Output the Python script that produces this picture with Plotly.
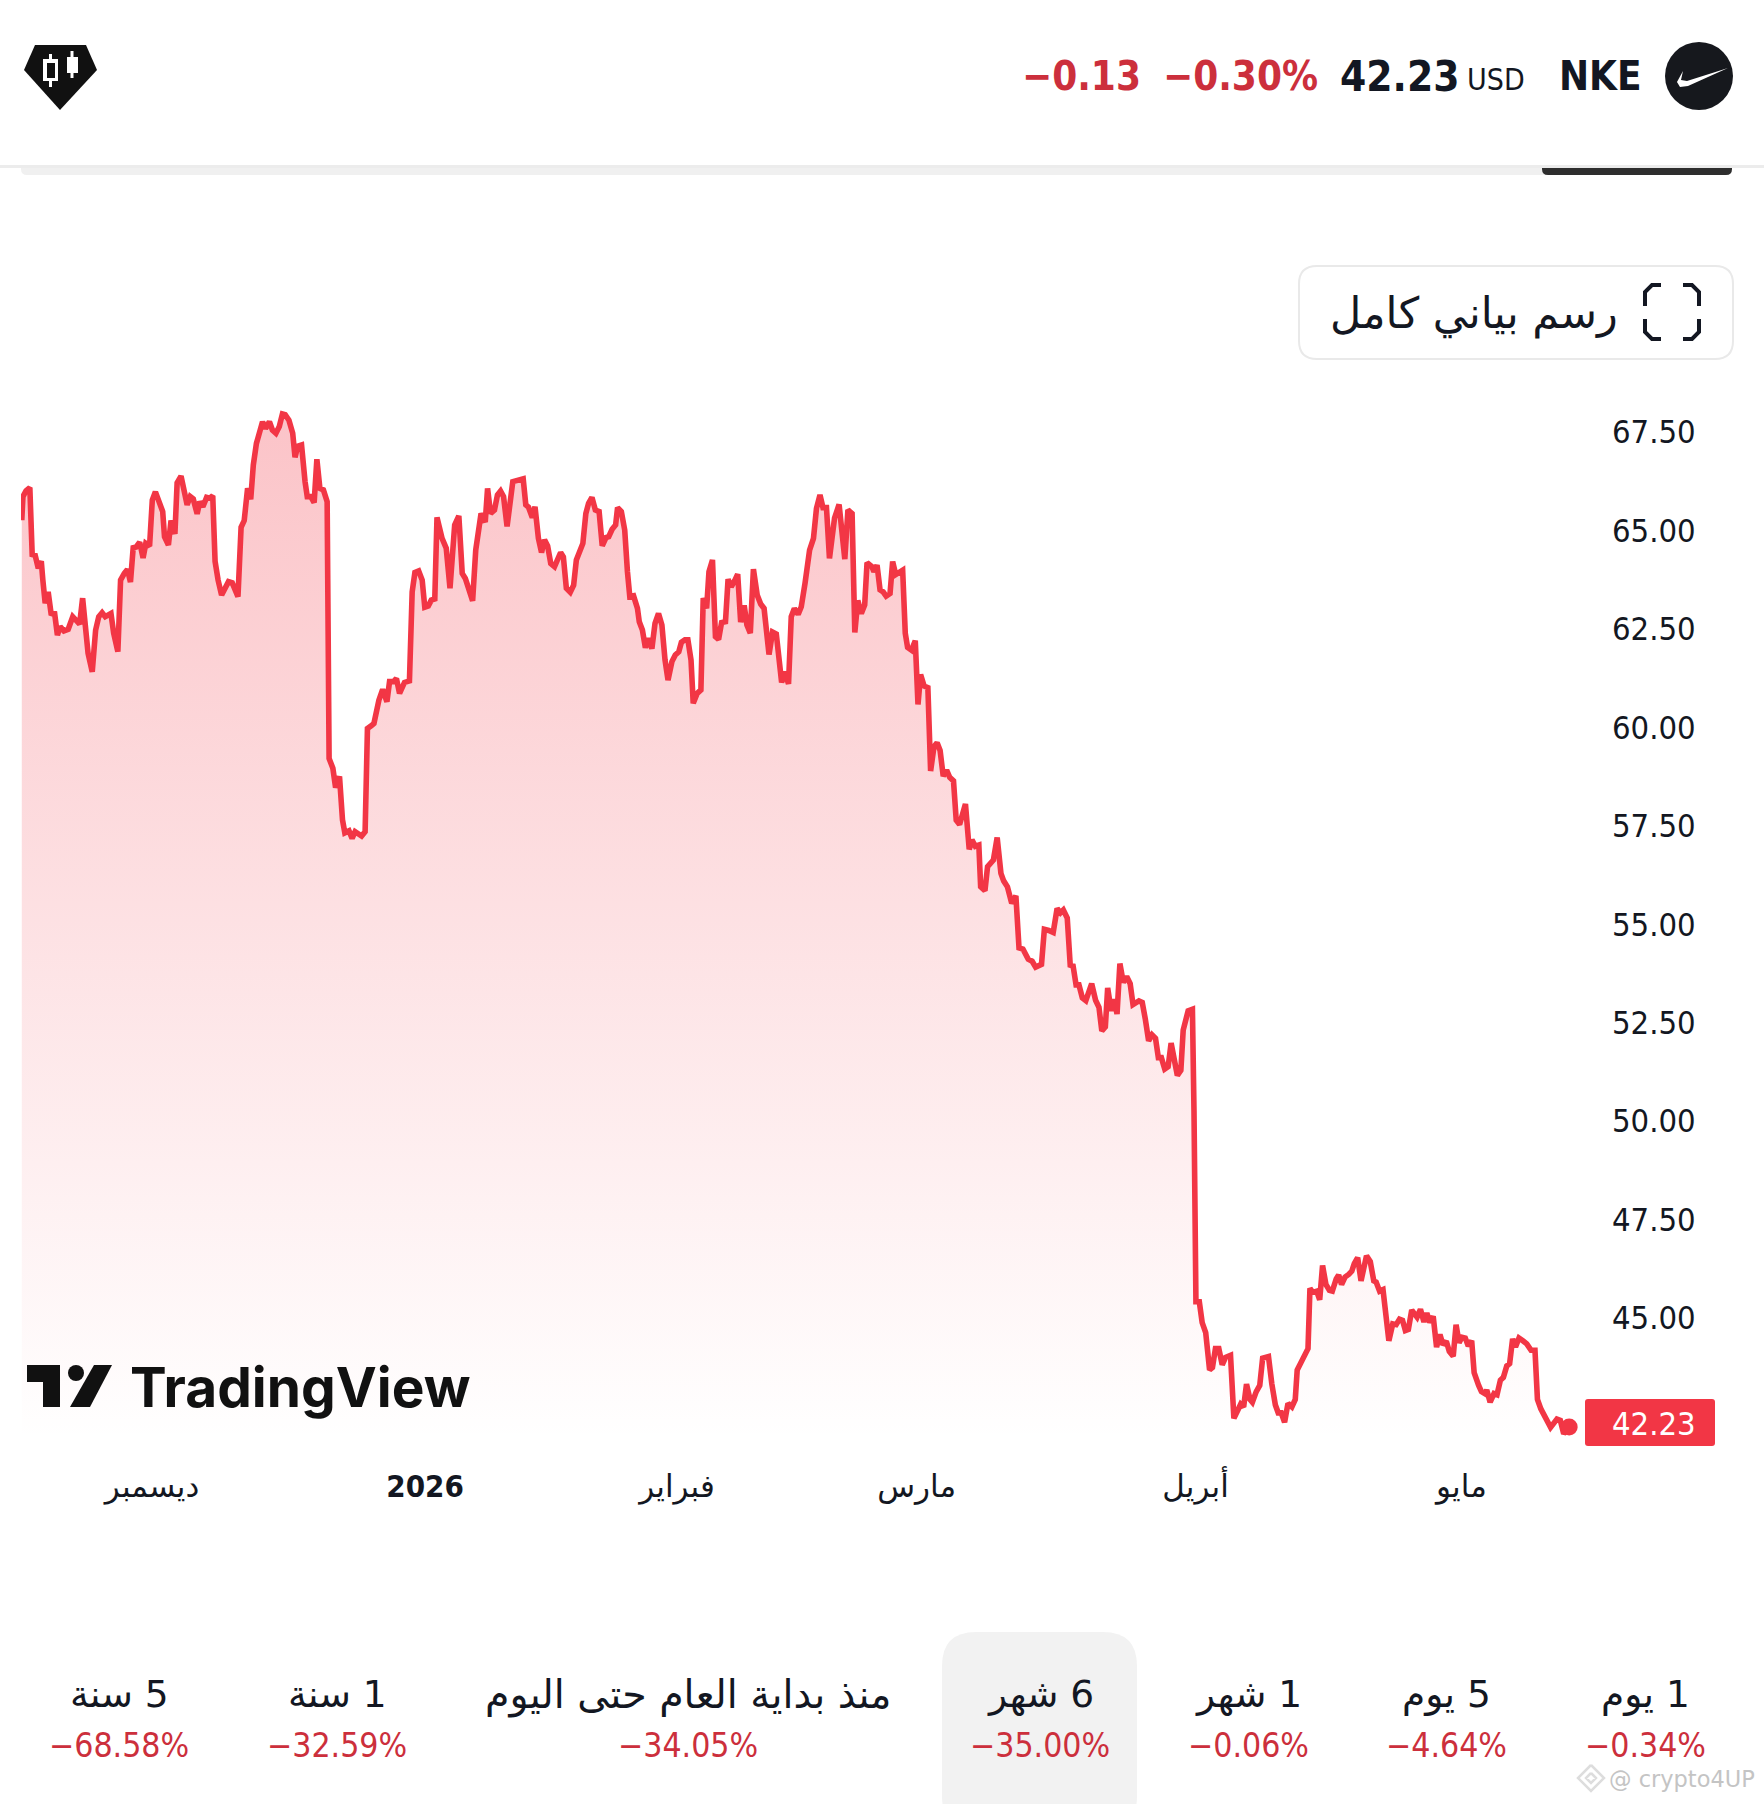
import plotly.graph_objects as go

FONT = 'DejaVu Sans'
COND = 'DejaVu Sans Condensed'
RED = '#f23645'
RED_TXT = '#cc2f3c'
INK = '#131722'

# trading session number (0 = left edge of the chart) and close
sessions_a = [0.06,0.15,0.39,0.68,0.86,1.09,1.33,1.56,1.68,1.86,2.09,2.33,2.57,2.80,3.01,3.30,3.63,3.98,4.51,4.74,5.16,5.48,5.74,5.98,6.24,6.48,6.92,7.13,7.45,7.66,7.95,8.19,8.42,8.63,8.86,9.13,9.39,9.60,9.89,10.10,10.34,10.90,11.04,11.34,11.54,11.84,12.01,12.31,12.78,13.02,13.25,13.55,13.75,13.99,14.28,14.52,14.75,14.93,15.16,15.43,15.96,16.25,16.69,16.93,17.17,17.43,17.67,17.87,18.11,18.58,18.81,19.11,19.34,19.61,19.87,20.11,20.32,20.61,20.90,21.08,21.29,21.58,21.85,22.02,22.29,22.55,22.76,22.99,23.26,23.55]
prices_a = [65.26,65.86,66.01,66.09,64.39,64.37,64.04,64.22,63.74,63.15,63.44,62.85,62.94,62.34,62.56,62.45,62.49,62.81,62.62,63.28,61.88,61.41,62.47,62.81,62.91,62.81,62.89,62.39,61.92,63.74,63.91,64.01,63.69,64.56,64.58,64.70,64.30,64.67,64.60,65.77,65.98,65.48,64.84,64.63,65.25,64.91,66.21,66.38,65.65,65.86,65.80,65.42,65.73,65.60,65.84,65.82,65.88,64.21,63.74,63.36,63.70,63.67,63.32,65.08,65.25,66.07,65.79,66.66,67.21,67.76,67.59,67.76,67.55,67.47,67.64,67.96,67.94,67.80,67.47,66.86,67.14,67.17,66.24,65.86,65.86,65.71,66.81,66.07,66.03,65.73]

sessions_b = [23.70,23.99,24.20,24.50,24.73,24.91,25.23,25.47,25.70,26.20,26.47,26.65,26.94,27.15,27.53,27.82,28.15,28.35,28.65,28.88,29.12,29.50,29.88,30.09,30.30,30.59,30.86,31.06,31.33,31.56,31.83,32.00,32.39,32.71,33.00,33.36,33.68,33.94,34.18,34.74,34.98,35.39,35.71,35.89,36.12,36.42,36.65,36.89,37.12,37.39,37.83,38.19,38.63,38.83,39.04,39.33,39.54,39.80,40.04,40.27,40.51,40.75,41.04,41.51,41.72,41.95,42.25,42.51,42.72,43.22,43.45,43.66,43.92]
prices_b = [59.21,58.96,58.47,58.75,57.65,57.32,57.37,57.18,57.35,57.24,57.35,59.97,60.04,60.10,60.69,60.96,60.65,61.16,61.16,61.24,60.86,61.14,61.18,63.44,63.93,63.97,63.74,63.05,63.08,63.23,63.26,65.33,64.80,64.55,63.53,65.14,65.37,63.91,63.78,63.21,64.50,65.43,65.21,66.07,65.43,65.52,65.90,66.00,65.86,65.10,66.24,66.26,66.31,65.65,65.59,65.33,65.60,64.80,64.44,64.76,64.61,64.16,64.08,64.44,64.33,63.53,63.43,63.61,64.25,64.67,65.43,65.69,65.84]

sessions_c = [44.18,44.47,44.71,45.00,45.21,45.47,45.74,45.89,46.18,46.44,46.65,46.83,47.12,47.42,47.56,47.80,48.03,48.24,48.53,48.77,49.04,49.30,49.54,49.77,50.07,50.33,50.60,50.80,51.07,51.30,51.54,51.71,52.01,52.30,52.48,52.74,52.92,53.19,53.42,53.66,53.89,54.19,54.39,54.63,54.89,55.13,55.36,55.63,55.84,56.10,56.34,56.63,56.90,57.16,57.54,57.81,58.10,58.51,58.75,59.04,59.25,59.49,59.78,60.02,60.31,60.66,60.96,61.19,61.46,61.69,61.96,62.19,62.58,62.93,63.37,63.61,63.93,64.14,64.37,64.64,64.90,65.08,65.46,65.61,65.85,66.08,66.32,66.55,66.85,67.05,67.29,67.82,68.02,68.20,68.50,68.79,69.00,69.20,69.47,69.76,69.97,70.23,70.47,70.70,70.94,71.20,71.44,71.73,71.94,72.20,72.65,72.94,73.15,73.41,73.68,73.82,74.15,74.35,74.80,75.09,75.38,75.59,75.88,76.21,76.53]
prices_c = [65.52,65.48,64.61,64.82,64.84,65.03,65.14,65.58,65.48,65.01,63.95,63.32,63.34,63.02,62.68,62.47,62.02,62.26,62.00,62.64,62.89,62.60,61.71,61.20,61.67,61.84,61.92,62.16,62.22,62.22,61.71,60.61,60.86,60.95,63.28,63.02,63.95,64.25,62.30,62.23,62.66,62.68,63.76,63.57,63.72,63.89,62.67,63.10,62.60,62.39,64.02,63.36,63.13,63.02,61.85,62.42,62.37,61.14,61.41,61.10,62.81,63.02,62.87,63.06,63.66,64.50,64.80,65.56,65.90,65.58,65.58,64.29,65.31,65.66,64.27,65.52,65.43,62.41,63.22,62.89,63.11,64.18,64.08,63.95,64.12,63.49,63.44,63.33,63.40,64.21,63.88,63.99,62.39,62.03,61.96,62.20,60.58,61.34,61.05,61.01,58.89,59.51,59.61,59.41,58.76,58.91,58.73,58.64,57.64,57.53,58.05,56.90,57.14,56.98,57.01,55.95,55.85,56.46,56.63,57.20,56.29,56.10,55.95,55.53,55.72]

sessions_d = [76.77,77.07,77.48,77.78,78.05,78.50,78.72,79.06,79.40,79.70,79.96,80.18,80.48,80.71,80.93,81.16,81.38,81.64,81.91,82.36,82.66,82.92,83.14,83.41,83.59,83.86,84.08,84.31,84.53,84.79,85.05,85.32,85.54,85.99,86.25,86.48,86.74,87.00,87.27,87.49,87.72,87.98,88.24,88.47,88.73,88.95,89.22,89.40,89.78,90.11,90.23,90.38,90.64,90.86,91.13,91.43,91.65,91.88,92.14,92.40,92.66,93.04,93.30,93.60,93.82,94.05,94.27,94.54,94.72,95.02,95.29,95.51,95.96,96.22,96.49,96.71,96.94,97.20,97.46,97.76,98.02,98.17,98.43,98.73,99.00,99.15,99.37,99.67,99.90,100.12,100.38,100.65,100.87,101.17,101.36,101.58,101.85,102.15,102.37,102.56,102.82,103.08,103.50,103.79,104.06,104.24,104.51,104.77,104.99,105.22,105.52,105.78,106.04,106.27,106.49,106.72,106.98,107.39,107.65,107.92,108.14,108.37,108.63,108.89,109.15,109.38,109.64,109.87,110.17,110.39,110.62,110.84,111.10,111.33,111.59,111.78,112.12,112.34,112.60,112.75,113.01,113.31,113.54,113.80,114.03,114.29,114.51,114.74,114.96,115.23,115.53,115.83,116.16,116.46,116.65,116.91,117.66,118.15,118.41,118.67,119.09]
prices_d = [54.40,54.37,54.11,54.06,53.91,53.98,54.87,54.84,54.79,55.40,55.29,55.36,55.16,53.96,53.94,53.46,53.46,53.13,53.06,53.49,53.07,52.89,52.29,52.39,53.38,52.80,53.09,52.72,54.00,53.52,53.67,53.49,52.96,53.05,53.01,52.60,52.04,52.19,52.10,51.61,51.61,51.32,51.38,51.98,51.45,51.16,51.29,52.31,52.80,52.84,50.27,45.41,45.41,44.88,44.63,43.68,43.74,44.22,44.22,43.81,44.00,44.05,42.45,42.71,42.81,42.74,43.32,42.93,42.86,43.13,43.29,43.98,44.02,43.32,42.79,42.59,42.59,42.35,42.83,42.74,42.93,43.68,43.84,43.98,44.22,45.75,45.65,45.68,45.46,46.33,45.85,45.70,45.68,45.99,46.09,45.85,46.04,46.11,46.19,46.38,46.53,45.94,46.58,46.43,45.94,45.91,45.68,45.72,44.92,44.42,44.85,44.83,44.97,44.94,44.68,44.71,45.20,45.02,45.22,44.90,45.12,44.89,45.04,44.26,44.58,44.32,44.41,44.15,44.03,44.83,44.37,44.51,44.49,44.29,44.42,43.61,43.29,43.13,43.08,43.17,42.86,43.08,43.05,43.42,43.49,43.78,43.84,44.47,44.26,44.49,44.42,44.34,44.18,44.18,42.93,42.69,42.22,42.43,42.40,42.06,42.23]

sessions = sessions_a + sessions_b + sessions_c + sessions_d
prices = prices_a + prices_b + prices_c + prices_d

y_ticks = [45, 47.5, 50, 52.5, 55, 57.5, 60, 62.5, 65, 67.5]
y_labels = ['45.00', '47.50', '50.00', '52.50', '55.00', '57.50', '60.00', '62.50', '65.00', '67.50']
x_ticks = [10.08, 31.08, 50.46, 68.9, 90.35, 110.8]
x_labels = ['ديسمبر', f'<span style="font-family:{COND};font-size:31px;font-weight:bold">2026</span>',
            'فبراير', 'مارس', 'أبريل', 'مايو']

# the leading RLM keeps the number on the right of the Arabic word
period_names = ['\u200f5 سنة', '\u200f1 سنة', 'منذ بداية العام حتى اليوم', '\u200f6 شهر', '\u200f1 شهر', '\u200f5 يوم', '\u200f1 يوم']
period_sizes = [37.5, 37.5, 39.5, 37.5, 37.5, 37.5, 37.5]
period_changes = ['−68.58%', '−32.59%', '−34.05%', '−35.00%', '−0.06%', '−4.64%', '−0.34%']
period_x = [119, 337, 688, 1040, 1248, 1446, 1645]

W, H = 1764, 1804
L, R, T, B = 21, 1605, 400, 1440


def px(x):
    return (x - L) / (R - L)


def py(y):
    return (B - y) / (B - T)


def note(text, x, y, size, color=INK, anchor='center', weight=None, family=FONT):
    return dict(text=text, xref='paper', yref='paper', x=px(x), y=py(y), showarrow=False,
                xanchor=anchor, yanchor='middle', align='center',
                font=dict(family=family, size=size, color=color, weight=weight))


def rect(x0, y0, x1, y1, **kw):
    return dict(type='rect', xref='paper', yref='paper', x0=px(x0), x1=px(x1), y0=py(y0), y1=py(y1),
                line=dict(width=0), **kw)


def path(points, color, layer='above', close=True):
    d = 'M ' + ' L '.join(f'{px(a):.5f} {py(b):.5f}' for a, b in points) + (' Z' if close else '')
    return dict(type='path', xref='paper', yref='paper', path=d, fillcolor=color,
                line=dict(width=0), layer=layer)


def round_box(x0, y0, x1, y1, r, fill, line=None):
    d = (f'M {px(x0+r)} {py(y0)} L {px(x1-r)} {py(y0)} Q {px(x1)} {py(y0)} {px(x1)} {py(y0+r)} '
         f'L {px(x1)} {py(y1-r)} Q {px(x1)} {py(y1)} {px(x1-r)} {py(y1)} '
         f'L {px(x0+r)} {py(y1)} Q {px(x0)} {py(y1)} {px(x0)} {py(y1-r)} '
         f'L {px(x0)} {py(y0+r)} Q {px(x0)} {py(y0)} {px(x0+r)} {py(y0)} Z')
    return dict(type='path', xref='paper', yref='paper', path=d, fillcolor=fill, layer='below',
                line=dict(width=2 if line else 0, color=line or fill))


def corner(points, color=INK, width=4):
    d = 'M ' + ' L '.join(f'{px(a):.5f} {py(b):.5f}' for a, b in points)
    return dict(type='path', xref='paper', yref='paper', path=d, line=dict(width=width, color=color))


fig = go.Figure()
fig.add_trace(go.Scatter(
    x=sessions, y=prices, mode='lines', hoverinfo='skip',
    line=dict(color=RED, width=5.6),
    fill='tozeroy',
    fillgradient=dict(type='vertical', start=68.3, stop=41.9,
                      colorscale=[[0, 'rgba(242,54,69,0.30)'], [1, 'rgba(242,54,69,0.0)']]),
))
fig.add_trace(go.Scatter(
    x=sessions[-1:], y=prices[-1:], mode='markers', hoverinfo='skip',
    marker=dict(color=RED, size=17),
))

shapes = [
    # tab strip peeking out under the header, then the header itself
    round_box(21, 150, 1732, 175, 6, '#f0f0f0'),
    round_box(1542, 150, 1732, 175, 6, '#2e2e2e'),
    rect(0, 0, W, 165, fillcolor='white', layer='below'),
    rect(0, 165, W, 168, fillcolor='#ececec', layer='below'),
    # gem logo
    path([(35, 45), (86, 45), (97, 70), (60, 110), (24, 70)], '#111111'),
    rect(49, 54, 52, 87, fillcolor='white'),
    rect(43, 59, 58, 81, fillcolor='white'),
    rect(47, 63, 55, 78, fillcolor='#111111'),
    rect(70.5, 51, 73.5, 78, fillcolor='white'),
    rect(67, 57, 78, 73, fillcolor='white'),
    # nike badge
    dict(type='circle', xref='paper', yref='paper', x0=px(1665), x1=px(1733), y0=py(110), y1=py(42),
         fillcolor='#16181d', line=dict(width=0)),
    path([(1728, 68), (1688, 86), (1680, 87), (1677, 82), (1683, 71), (1681, 80), (1687, 81)], 'white'),
    # full chart button
    round_box(1299, 266, 1733, 359, 18, 'white', '#e9e9e9'),
    corner([(1645, 306), (1645, 292), (1652, 285), (1661, 285)]),
    corner([(1683, 285), (1692, 285), (1699, 292), (1699, 306)]),
    corner([(1645, 319), (1645, 332), (1652, 339), (1661, 339)]),
    corner([(1683, 339), (1692, 339), (1699, 332), (1699, 319)]),
    # last price tag
    round_box(1585, 1399, 1715, 1446, 3, RED),
    # selected period
    round_box(942, 1632, 1137, 1830, 34, '#f2f2f2'),
    # tradingview logo
    path([(27, 1365), (60, 1365), (60, 1407), (43, 1407), (43, 1382), (27, 1382)], '#111111'),
    dict(type='circle', xref='paper', yref='paper', x0=px(68), x1=px(84), y0=py(1381), y1=py(1365),
         fillcolor='#111111', line=dict(width=0)),
    path([(94, 1365), (112, 1365), (90, 1407), (70, 1407)], '#111111'),
    # watermark badge
    corner([(1591, 1765), (1604, 1778), (1591, 1791), (1578, 1778), (1591, 1765)], '#dddddd', 2.5),
    corner([(1591, 1773), (1596, 1778), (1591, 1783), (1586, 1778), (1591, 1773)], '#dddddd', 2.5),
]

notes = [
    note('−0.13', 1081, 76, 40, RED_TXT, weight='bold', family=COND),
    note('−0.30%', 1240, 76, 40, RED_TXT, weight='bold', family=COND),
    note('42.23', 1400, 76, 42, INK, weight='bold', family=COND),
    note('USD', 1496, 79, 30, INK, family=COND),
    note('NKE', 1600, 76, 40, INK, weight='bold', family=COND),
    note('رسم بياني كامل', 1474, 313, 43, INK),
    note('42.23', 1654, 1424, 32.5, 'white', family=COND),
    note('TradingView', 300, 1387, 55, '#111111', weight=700, family='Inter'),
    note('@ crypto4UP', 1682, 1779, 22.5, '#c4c4c4'),
]
for name, size, change, x in zip(period_names, period_sizes, period_changes, period_x):
    notes.append(note(name, x, 1694, size, INK))
    notes.append(note(change, x, 1745, 33.5, RED_TXT, family=COND))

fig.update_layout(
    width=W, height=H,
    margin=dict(l=L, r=W - R, t=T, b=H - B, autoexpand=False),
    paper_bgcolor='white', plot_bgcolor='rgba(0,0,0,0)',
    showlegend=False,
    shapes=shapes,
    annotations=notes,
    xaxis=dict(range=[0, (R - L) / 13.0], showgrid=False, zeroline=False, showline=False, ticks='',
               tickmode='array', tickvals=x_ticks, ticktext=x_labels, ticklabelstandoff=25,
               tickfont=dict(family=FONT, size=31, color=INK)),
    yaxis=dict(range=[41.9, 68.313], side='right', showgrid=False, zeroline=False, showline=False, ticks='',
               tickmode='array', tickvals=y_ticks, ticktext=y_labels, ticklabelstandoff=6,
               tickfont=dict(family=COND, size=32.5, color=INK)),
)

fig.write_html('out.html', config=dict(displayModeBar=False),
               post_script="document.body.style.margin='0'")
